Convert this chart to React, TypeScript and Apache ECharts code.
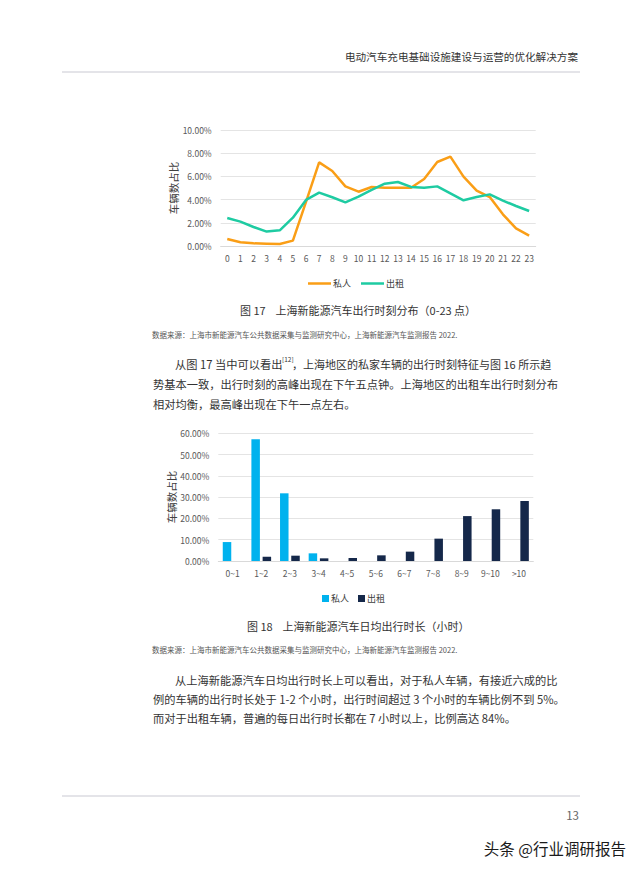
import React, { useEffect, useRef } from "react";
import * as echarts from "echarts";

const hours = ["0","1","2","3","4","5","6","7","8","9","10","11","12","13","14","15","16","17","18","19","20","21","22","23"];
const privateHourly = [0.6,0.32,0.23,0.2,0.17,0.46,3.8,7.21,6.47,5.14,4.68,5.09,5.03,5.02,5.02,5.78,7.24,7.7,5.98,4.77,4.22,2.73,1.52,0.89];
const taxiHourly = [2.41,2.1,1.64,1.24,1.35,2.44,3.97,4.6,4.2,3.76,4.25,4.83,5.37,5.52,5.09,5.03,5.14,4.54,3.94,4.22,4.45,3.91,3.45,3.02];

const durations = ["0~1","1~2","2~3","3~4","4~5","5~6","6~7","7~8","8~9","9~10",">10"];
const privateDuration = [8.9,57.2,31.8,3.6,0,0,0,0,0,0,0];
const taxiDuration = [0,2.0,2.5,1.25,1.4,2.66,4.4,10.5,21.1,24.3,28.2];

const seriesNames = ["私人", "出租"];

const FONT = "'Noto Sans CJK SC', 'Noto Sans', sans-serif";
const ORANGE = "#FA9E16";
const TEAL = "#1ECBA2";
const BLUE = "#00B2EE";
const NAVY = "#15284A";

function txt(text: string, x: number, y: number, size: number, fill: string, align = "left", extra: any = {}) {
  return {
    type: "text",
    x,
    y,
    silent: true,
    ...extra,
    style: {
      text,
      fontSize: size,
      fontFamily: FONT,
      fill,
      align,
      textAlign: align,
      verticalAlign: "middle",
      textVerticalAlign: "middle",
      ...(extra.style || {}),
    },
  };
}

export default function App() {
  const ref = useRef<HTMLDivElement>(null);
  useEffect(() => {
    if (!ref.current) return;
    const chart = echarts.init(ref.current, undefined, { renderer: "svg" });
    const axisLabel = { color: "#595959", fontSize: 8.5, fontFamily: FONT };
    const body = "#333333";
    const option: any = {
      animation: false,
      backgroundColor: "#ffffff",
      grid: [
        { left: 220.7, top: 130, width: 315, height: 116 },
        { left: 218.3, top: 433.3, width: 315, height: 127.7 },
      ],
      xAxis: [
        {
          type: "category", gridIndex: 0, data: hours, boundaryGap: true,
          axisTick: { show: false },
          axisLine: { lineStyle: { color: "#D9D9D9" } },
          axisLabel: { ...axisLabel, margin: 8, interval: 0 },
        },
        {
          type: "category", gridIndex: 1, data: durations, boundaryGap: true,
          axisTick: { show: false },
          axisLine: { lineStyle: { color: "#D9D9D9" } },
          axisLabel: { ...axisLabel, margin: 8, interval: 0 },
        },
      ],
      yAxis: [
        {
          type: "value", gridIndex: 0, min: 0, max: 10, interval: 2,
          axisLine: { show: false }, axisTick: { show: false },
          splitLine: { lineStyle: { color: "#E4E4E4" } },
          axisLabel: { ...axisLabel, margin: 9, formatter: (v: number) => v.toFixed(2) + "%" },
        },
        {
          type: "value", gridIndex: 1, min: 0, max: 60, interval: 10,
          axisLine: { show: false }, axisTick: { show: false },
          splitLine: { lineStyle: { color: "#E4E4E4" } },
          axisLabel: { ...axisLabel, margin: 9, formatter: (v: number) => v.toFixed(2) + "%" },
        },
      ],
      legend: [
        {
          left: 303, top: 274, itemWidth: 23, itemHeight: 2.5, itemGap: 10, icon: "rect",
          textStyle: { fontSize: 9, color: "#404040", fontFamily: FONT, padding: [0, 0, 0, -3] },
          data: [
            { name: seriesNames[0], icon: "rect", itemStyle: { color: ORANGE } },
            { name: seriesNames[1], icon: "rect", itemStyle: { color: TEAL } },
          ],
        },
        {
          left: 317, top: 589, itemWidth: 7, itemHeight: 7, itemGap: 9, icon: "rect",
          textStyle: { fontSize: 9, color: "#404040", fontFamily: FONT, padding: [0, 0, 0, -3] },
          data: [
            { name: seriesNames[0], icon: "rect", itemStyle: { color: BLUE } },
            { name: seriesNames[1], icon: "rect", itemStyle: { color: NAVY } },
          ],
        },
      ],
      series: [
        {
          name: seriesNames[0], type: "line", xAxisIndex: 0, yAxisIndex: 0, data: privateHourly,
          symbol: "none", lineStyle: { color: ORANGE, width: 2.5 }, itemStyle: { color: ORANGE },
        },
        {
          name: seriesNames[1], type: "line", xAxisIndex: 0, yAxisIndex: 0, data: taxiHourly,
          symbol: "none", lineStyle: { color: TEAL, width: 2.5 }, itemStyle: { color: TEAL },
        },
        {
          name: seriesNames[0], type: "bar", xAxisIndex: 1, yAxisIndex: 1, data: privateDuration,
          barWidth: 8.5, barGap: "32%", itemStyle: { color: BLUE },
        },
        {
          name: seriesNames[1], type: "bar", xAxisIndex: 1, yAxisIndex: 1, data: taxiDuration,
          barWidth: 8.5, barGap: "32%", itemStyle: { color: NAVY },
        },
      ],
      graphic: [
        txt("电动汽车充电基础设施建设与运营的优化解决方案", 578, 56, 10.6, "#333333", "right"),
        { type: "line", silent: true, shape: { x1: 62, y1: 72, x2: 580, y2: 72 }, style: { stroke: "#C9C9D2", lineWidth: 1 } },
        txt("车辆数占比", 173, 188, 10.5, "#404040", "center", { rotation: Math.PI / 2 }),
        txt("图 17    上海新能源汽车出行时刻分布（0-23 点）", 240, 310, 11, body, "left"),
        txt("数据来源：上海市新能源汽车公共数据采集与监测研究中心，上海新能源汽车监测报告 2022.", 152, 334, 7.5, "#555555", "left"),
        txt("从图 17 当中可以看出", 175, 364, 11.25, body, "left"),
        txt("[12]", 282, 359, 6.5, body, "left"),
        txt("，上海地区的私家车辆的出行时刻特征与图 16 所示趋", 292, 364, 11.0, body, "left"),
        txt("势基本一致，出行时刻的高峰出现在下午五点钟。上海地区的出租车出行时刻分布", 153, 384, 11.25, body, "left"),
        txt("相对均衡，最高峰出现在下午一点左右。", 153, 404, 11.25, body, "left"),
        txt("车辆数占比", 171, 497, 10.5, "#404040", "center", { rotation: Math.PI / 2 }),
        txt("图 18    上海新能源汽车日均出行时长（小时）", 247, 626, 11, body, "left"),
        txt("数据来源：上海市新能源汽车公共数据采集与监测研究中心，上海新能源汽车监测报告 2022.", 152, 649, 7.5, "#555555", "left"),
        txt("从上海新能源汽车日均出行时长上可以看出，对于私人车辆，有接近六成的比", 175, 680, 11.25, body, "left"),
        txt("例的车辆的出行时长处于 1-2 个小时，出行时间超过 3 个小时的车辆比例不到 5%。", 153, 699, 11.25, body, "left"),
        txt("而对于出租车辆，普遍的每日出行时长都在 7 小时以上，比例高达 84%。", 153, 718, 11.25, body, "left"),
        { type: "line", silent: true, shape: { x1: 62, y1: 796, x2: 580, y2: 796 }, style: { stroke: "#C9C9D2", lineWidth: 1 } },
        txt("13", 579, 815, 11.5, "#666666", "right"),
        txt("头条 @行业调研报告", 626, 848, 15.5, "#1a1a1a", "right", { style: { stroke: "#ffffff", lineWidth: 2 } }),
      ],
    };
    chart.setOption(option);
    return () => chart.dispose();
  }, []);
  return <div ref={ref} style={{ position: "absolute", left: 0, top: 0, width: 640, height: 869 }} />;
}
